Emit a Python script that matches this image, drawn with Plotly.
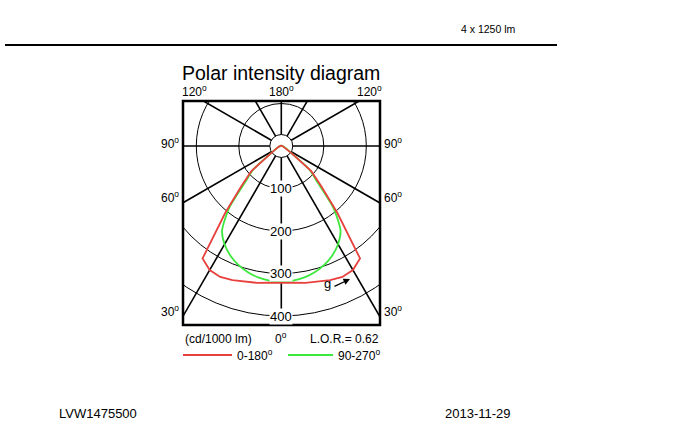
import plotly.graph_objects as go
import numpy as np

# ---------------- data ----------------
GAMMA = [0, 5, 10, 15, 20, 25, 30, 35, 40, 45, 50, 55, 60, 65, 70, 75, 80, 85, 90,
         95, 100, 105, 110, 115, 120, 125, 130, 135, 140, 145, 150, 155, 160, 165, 170, 175, 180]
# C0-C180 plane (cd/1000 lm), symmetric
RED_I = [321, 323, 327, 331, 336, 340, 337, 323, 205, 132, 92, 30, 17, 11, 8, 6, 5, 4, 3,
         2, 2, 2, 1, 1, 1, 1, 1, 1, 1, 1, 1, 1, 1, 1, 1, 1, 1]
# C90-C270 plane (cd/1000 lm), symmetric
GREEN_I = [320, 318, 314, 307, 297, 284, 267, 243, 192, 120, 86, 29, 16, 10, 7, 5, 4, 3, 2,
           2, 2, 1, 1, 1, 1, 1, 1, 1, 1, 1, 1, 1, 1, 1, 1, 1, 1]
GRID_RADII = [100, 200, 300, 400]
GRID_LABELS = ["100", "200", "300", "400"]
INNER_RADIUS = 27
SPOKE_ANGLES = [0, 30, 60, 90, 120, 150, 180, 210, 240, 270, 300, 330]
ANGLE_LABELS = ["0", "30", "60", "90", "120", "180"]

W, H = 694, 428
L, R, T, B = 183, 314, 101, 103
CX, CY = 281.3, 146.0
S = 0.425  # px per cd
pw, ph = W - L - R, H - T - B
XR = [-(CX - L) / S, (W - R - CX) / S]
YR = [-(H - B - CY) / S, (CY - T) / S]

FONT = "Arial, Liberation Sans, sans-serif"


def px(x):
    return (x - L) / pw


def py(y):
    return (H - B - y) / ph


def curve(I):
    g = np.radians(np.array(GAMMA, dtype=float))
    I = np.array(I, dtype=float)
    xl = -(I * np.sin(g))[::-1]
    yl = -(I * np.cos(g))[::-1]
    xr = I * np.sin(g)
    yr = -I * np.cos(g)
    return np.concatenate([xl, xr[1:]]), np.concatenate([yl, yr[1:]])


fig = go.Figure()
gx, gy = curve(GREEN_I)
fig.add_trace(go.Scatter(x=gx, y=gy, mode="lines",
                         line=dict(color="#3de83d", width=1.8, shape="spline", smoothing=0.6),
                         hoverinfo="skip", showlegend=False))
rx, ry = curve(RED_I)
fig.add_trace(go.Scatter(x=rx, y=ry, mode="lines", line=dict(color="#e8403c", width=1.8),
                         hoverinfo="skip", showlegend=False))

shapes = []
for r in GRID_RADII:
    shapes.append(dict(type="circle", xref="x", yref="y", x0=-r, x1=r, y0=-r, y1=r,
                       line=dict(color="black", width=1), layer="below"))
shapes.append(dict(type="circle", xref="x", yref="y", x0=-INNER_RADIUS, x1=INNER_RADIUS,
                   y0=-INNER_RADIUS, y1=INNER_RADIUS, line=dict(color="black", width=1), layer="below"))
for a in SPOKE_ANGLES:
    t = np.radians(a)
    shapes.append(dict(type="line", xref="x", yref="y",
                       x0=INNER_RADIUS * np.sin(t), y0=-INNER_RADIUS * np.cos(t),
                       x1=900 * np.sin(t), y1=-900 * np.cos(t),
                       line=dict(color="black", width=1.6), layer="below"))
shapes.append(dict(type="rect", xref="paper", yref="paper", x0=0, x1=1, y0=0, y1=1,
                   line=dict(color="black", width=2.5)))
shapes.append(dict(type="line", xref="paper", yref="paper", x0=px(5), x1=px(557), y0=py(45), y1=py(45),
                   line=dict(color="black", width=2)))
shapes.append(dict(type="line", xref="paper", yref="paper", x0=px(183), x1=px(232), y0=py(355), y1=py(355),
                   line=dict(color="#e8403c", width=1.8)))
shapes.append(dict(type="line", xref="paper", yref="paper", x0=px(288), x1=px(333), y0=py(355), y1=py(355),
                   line=dict(color="#3de83d", width=1.8)))

ann = []


def txt(x, y, s, size=12, xanchor="center"):
    ann.append(dict(xref="paper", yref="paper", x=px(x), y=py(y), text=s, showarrow=False,
                    font=dict(family=FONT, size=size, color="black"), xanchor=xanchor, yanchor="middle"))


deg = "<sup>o</sup>"
for r, lab in zip(GRID_RADII, GRID_LABELS):
    ann.append(dict(xref="x", yref="y", x=0, y=-r, text=lab, showarrow=False,
                    font=dict(family=FONT, size=13, color="black"), bgcolor="white", borderpad=0,
                    xanchor="center", yanchor="middle"))

txt(281, 73, "Polar intensity diagram", size=19.5)
txt(194, 91, ANGLE_LABELS[4] + deg)
txt(281, 91, ANGLE_LABELS[5] + deg)
txt(369, 91, ANGLE_LABELS[4] + deg)
txt(170, 143, ANGLE_LABELS[3] + deg)
txt(393, 143, ANGLE_LABELS[3] + deg)
txt(170, 197, ANGLE_LABELS[2] + deg)
txt(393, 197, ANGLE_LABELS[2] + deg)
txt(170, 311, ANGLE_LABELS[1] + deg)
txt(393, 311, ANGLE_LABELS[1] + deg)
txt(281, 338, ANGLE_LABELS[0] + deg)
txt(183, 339, "(cd/1000 lm)", xanchor="left")
txt(381, 339, "L.O.R.= 0.62", xanchor="right")
txt(235, 355, "0-180" + deg, xanchor="left")
txt(336, 355, "90-270" + deg, xanchor="left")
txt(327, 283, "g", size=13)
txt(488, 29, "4 x 1250 lm", size=10.5)
txt(57, 413, "LVW1475500", size=13, xanchor="left")
txt(443, 413, "2013-11-29", size=13, xanchor="left")

ann.append(dict(xref="paper", yref="paper", x=px(350), y=py(279), ax=-17, ay=8, text="",
                showarrow=True, arrowhead=2, arrowsize=1, arrowwidth=1.3, arrowcolor="black"))

fig.update_layout(
    width=W, height=H, autosize=False,
    margin=dict(l=L, r=R, t=T, b=B, pad=0),
    paper_bgcolor="white", plot_bgcolor="white",
    xaxis=dict(range=XR, visible=False, fixedrange=True),
    yaxis=dict(range=YR, visible=False, fixedrange=True),
    shapes=shapes, annotations=ann, showlegend=False,
)
fig.write_html("out.html", config={"displayModeBar": False},
               post_script="document.body.style.margin='0';")
